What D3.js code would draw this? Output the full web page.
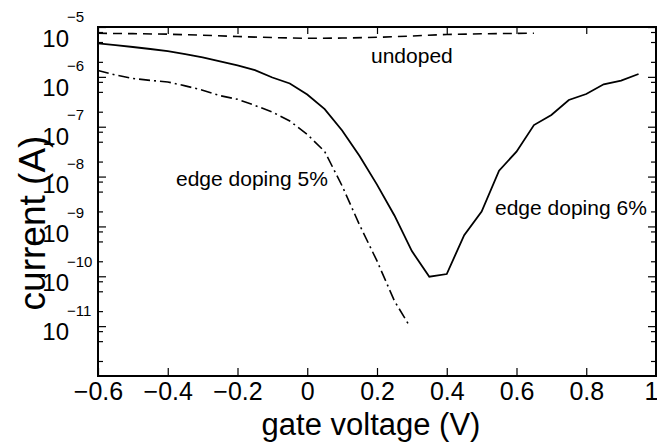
<!DOCTYPE html>
<meta charset="utf-8">
<script src="https://d3js.org/d3.v7.min.js"></script>
<style>
  body { margin: 0; background: #fff; }
  text { font-family: "Liberation Sans", Arial, Helvetica, sans-serif; fill: #000; }
</style>
<div id="chart"></div>
<script>
// gate voltage (V) and current (A) for each device
const vEdge6 = [-0.6, -0.55, -0.5, -0.45, -0.4, -0.35, -0.3, -0.25, -0.2, -0.15, -0.1, -0.05, 0,
                0.05, 0.1, 0.15, 0.2, 0.25, 0.3, 0.35, 0.4, 0.45, 0.5, 0.55, 0.6, 0.65, 0.7, 0.75,
                0.8, 0.85, 0.9, 0.95];
const iEdge6 = [4.71e-6, 4.32e-6, 3.97e-6, 3.62e-6, 3.27e-6, 2.87e-6, 2.47e-6, 2.05e-6, 1.69e-6,
                1.36e-6, 9.7e-7, 7.36e-7, 4.43e-7, 2.26e-7, 8.4e-8, 2.59e-8, 6.9e-9, 1.66e-9,
                3.2e-10, 9.8e-11, 1.11e-10, 6.7e-10, 1.98e-9, 1.31e-8, 3.16e-8, 1.08e-7, 1.72e-7,
                3.44e-7, 4.53e-7, 7.1e-7, 8.4e-7, 1.14e-6];

const vEdge5 = [-0.6, -0.55, -0.5, -0.45, -0.4, -0.35, -0.3, -0.25, -0.2, -0.15, -0.1, -0.05, 0,
                0.05, 0.1, 0.15, 0.2, 0.25, 0.29];
const iEdge5 = [1.34e-6, 1.09e-6, 9.3e-7, 8.5e-7, 7.9e-7, 6.6e-7, 5.4e-7, 4.2e-7, 3.55e-7, 2.67e-7,
                1.97e-7, 1.30e-7, 7.0e-8, 3.18e-8, 6.5e-9, 1.07e-9, 2.03e-10, 3.2e-11, 1.1e-11];

const vUndoped = [-0.6, -0.5, -0.4, -0.3, -0.2, -0.1, 0, 0.1, 0.2, 0.3, 0.4, 0.5, 0.6, 0.65];
const iUndoped = [7.48e-6, 7.36e-6, 7.18e-6, 6.84e-6, 6.44e-6, 6.14e-6, 5.93e-6, 6.0e-6, 6.21e-6,
                  6.6e-6, 7.08e-6, 7.31e-6, 7.45e-6, 7.48e-6];

const xTicks = [-0.6, -0.4, -0.2, 0, 0.2, 0.4, 0.6, 0.8, 1];
const xTickLabels = ["\u22120.6", "\u22120.4", "\u22120.2", "0", "0.2", "0.4", "0.6", "0.8", "1"];
const yDecades = [1e-5, 1e-6, 1e-7, 1e-8, 1e-9, 1e-10, 1e-11];
const yExponents = ["\u22125", "\u22126", "\u22127", "\u22128", "\u22129", "\u221210", "\u221211"];

const margin = {top: 27, right: 1, bottom: 66, left: 98},
    width = 657 - margin.left - margin.right,
    height = 442 - margin.top - margin.bottom;

const svg = d3.select("#chart")
  .append("svg")
    .attr("width", 657)
    .attr("height", 442);

const x = d3.scaleLinear().domain([-0.6, 1]).range([margin.left, margin.left + width]);
const y = d3.scaleLog().domain([1e-12, 1e-5]).range([margin.top + height, margin.top]);
// the exponent labels sit on a slightly different spacing than the ticks
const yLab = d3.scaleLog().domain([1e-12, 1e-5]).range([380.6, 38.3]);

// minor ticks at 2 and 5 of each decade
const yMinor = y.ticks().filter(t => {
  const m = Math.round(t / Math.pow(10, Math.floor(Math.log10(t) + 1e-9)));
  return m === 2 || m === 5;
});
// a second, slightly shifted set of decade ticks
const yShift = y.copy().range([margin.top + height + 5, margin.top + 5]);

function tickAxis(axis, tr) {
  const g = svg.append("g").attr("transform", tr).call(axis);
  g.select(".domain").remove();
  g.selectAll(".tick line").attr("stroke", "#000").attr("stroke-width", 1.2);
  return g;
}

// bottom / top
const gx = tickAxis(d3.axisBottom(x).tickValues(xTicks).tickSize(-8).tickPadding(6)
    .tickFormat((d, i) => xTickLabels[i]), `translate(0,${margin.top + height})`);
gx.selectAll(".tick text")
    .attr("font-size", 25)
    .style("font-family", "Liberation Sans, Arial, sans-serif");
// the last label is pulled in so it stays on the page
gx.selectAll(".tick text").filter(d => d === 1)
    .attr("text-anchor", "end")
    .attr("dx", 2);
tickAxis(d3.axisTop(x).tickValues(xTicks).tickSize(-7).tickFormat(""), `translate(0,${margin.top})`);

// left / right
[[d3.axisLeft, margin.left], [d3.axisRight, margin.left + width]].forEach(([ax, px]) => {
  tickAxis(ax(y).tickValues(yDecades).tickSize(-8).tickFormat(""), `translate(${px},0)`);
  tickAxis(ax(y).tickValues(yMinor).tickSize(-5).tickFormat(""), `translate(${px},0)`);
  tickAxis(ax(yShift).tickValues(yDecades).tickSize(-5).tickFormat(""), `translate(${px},0)`);
});

// y labels: 10 with exponent
svg.append("g").selectAll("text")
  .data(yDecades)
  .join("text")
    .attr("x", 69)
    .attr("y", d => yLab(d))
    .attr("dy", "0.35em")
    .attr("text-anchor", "end")
    .attr("font-size", 24)
    .text("10");
svg.append("g").selectAll("text")
  .data(yDecades)
  .join("text")
    .attr("x", 67)
    .attr("y", d => yLab(d) - 21.4)
    .attr("dy", "0.35em")
    .attr("font-size", 15)
    .text((d, i) => yExponents[i]);

// frame
svg.append("rect")
    .attr("x", margin.left)
    .attr("y", margin.top)
    .attr("width", width)
    .attr("height", height)
    .attr("fill", "none")
    .attr("stroke", "#000")
    .attr("stroke-width", 2);

const line = d3.line().x(d => x(d[0])).y(d => y(d[1]));

svg.append("path")
    .datum(d3.zip(vUndoped, iUndoped))
    .attr("d", line)
    .attr("fill", "none")
    .attr("stroke", "#000")
    .attr("stroke-width", 1.6)
    .attr("stroke-dasharray", "9,6");

svg.append("path")
    .datum(d3.zip(vEdge5, iEdge5))
    .attr("d", line)
    .attr("fill", "none")
    .attr("stroke", "#000")
    .attr("stroke-width", 1.6)
    .attr("stroke-dasharray", "11,4,2,4");

svg.append("path")
    .datum(d3.zip(vEdge6, iEdge6))
    .attr("d", line)
    .attr("fill", "none")
    .attr("stroke", "#000")
    .attr("stroke-width", 1.8);

// curve labels
const notes = [["undoped", 371, 63], ["edge doping 5%", 176, 186], ["edge doping 6%", 495, 215]];
svg.append("g").selectAll("text")
  .data(notes)
  .join("text")
    .attr("x", d => d[1])
    .attr("y", d => d[2])
    .attr("font-size", 21)
    .text(d => d[0]);

// axis titles
svg.append("text")
    .attr("x", 371)
    .attr("y", 435)
    .attr("text-anchor", "middle")
    .attr("font-size", 31)
    .text("gate voltage (V)");

svg.append("text")
    .attr("transform", "translate(45,223) rotate(-90)")
    .attr("text-anchor", "middle")
    .attr("font-size", 37)
    .text("current (A)");
</script>
